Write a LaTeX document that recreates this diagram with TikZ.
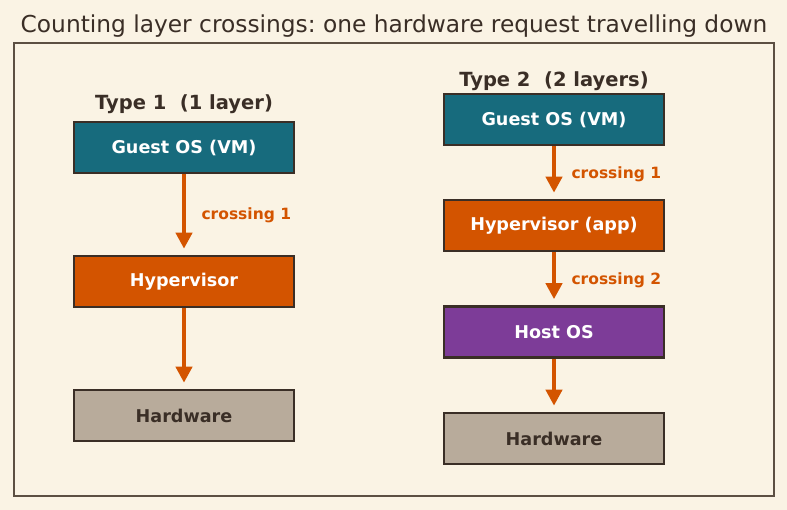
\documentclass[tikz,border=0pt]{standalone}
\usepackage{fontspec}
\setmainfont{DejaVu Sans}
\usetikzlibrary{arrows.meta}
\frenchspacing
\definecolor{bg}{HTML}{FAF3E4}
\definecolor{ink}{HTML}{3A2E26}
\definecolor{frame}{HTML}{5C4F42}
\definecolor{teal}{HTML}{176B7D}
\definecolor{orng}{HTML}{D35400}
\definecolor{purp}{HTML}{7D3C98}
\definecolor{tan}{HTML}{B8AB9B}
\tikzset{
  layer/.style={draw=ink, line width=2.6pt, minimum width=220pt, minimum height=51pt, inner sep=0pt, font=\fontsize{17.6}{20}\selectfont\bfseries},
  flow/.style={draw=orng, line width=4.2pt, -{Triangle[length=16pt,width=16pt]}, shorten >=6pt},
  lbl/.style={text=orng, font=\fontsize{15.5}{18}\selectfont\bfseries, anchor=west},
  head/.style={text=ink, font=\fontsize{19.5}{22}\selectfont\bfseries},
}
\begin{document}
\begin{tikzpicture}[x=1pt,y=-1pt]
\fill[bg] (0,0) rectangle (787,510);
\useasboundingbox (0,0) rectangle (787,510);
\node[text=ink, font=\fontsize{23.3}{26}\selectfont] (title) at (394,26) {Counting layer crossings: one hardware request travelling down};
\draw[frame, line width=1.6pt] (14,43) rectangle (774,496);
% Type 1
\node[head] (h1) at (184,104) {Type 1\ \ (1 layer)};
\node[layer, fill=teal, text=white] (g1) at (184,147.5) {Guest OS (VM)};
\node[layer, fill=orng, text=white] (v1) at (184,281.5) {Hypervisor};
\node[layer, fill=tan, text=ink] (hw1) at (184,415.5) {Hardware};
\draw[flow] (g1.south) -- (v1.north);
\draw[flow] (v1.south) -- (hw1.north);
\node[lbl] (c11) at (198,215) {crossing 1};
% Type 2
\node[head] (h2) at (554,81) {Type 2\ \ (2 layers)};
\node[layer, fill=teal, text=white] (g2) at (554,119.5) {Guest OS (VM)};
\node[layer, fill=orng, text=white] (v2) at (554,225.5) {Hypervisor (app)};
\node[layer, fill=purp, text=white] (o2) at (554,332) {Host OS};
\node[layer, fill=tan, text=ink] (hw2) at (554,438.5) {Hardware};
\draw[flow] (g2.south) -- (v2.north);
\draw[flow] (v2.south) -- (o2.north);
\draw[flow] (o2.south) -- (hw2.north);
\node[lbl] (c21) at (568,174) {crossing 1};
\node[lbl] (c22) at (568,280) {crossing 2};
\end{tikzpicture}
\end{document}
